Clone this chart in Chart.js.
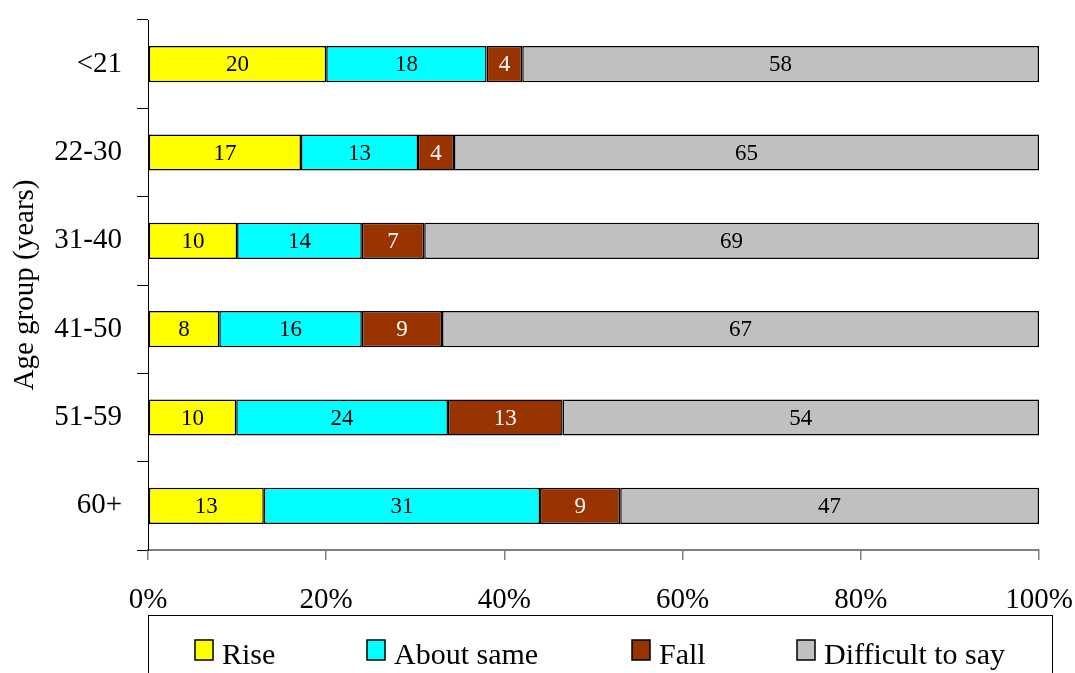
<!DOCTYPE html>
<html>
<head>
<meta charset="utf-8">
<script src="https://cdn.jsdelivr.net/npm/chart.js@4/dist/chart.umd.min.js"></script>
<style>
  html, body { margin: 0; padding: 0; background: #fff; }
  #wrap { width: 1075px; height: 673px; }
</style>
</head>
<body>
<div id="wrap"><canvas id="ageChart" width="1075" height="673"></canvas></div>
<script>
// survey answers by age group, counts in percent of each row
const ageGroups = ['<21', '22-30', '31-40', '41-50', '51-59', '60+'];
const rise = [20, 17, 10, 8, 10, 13];
const aboutSame = [18, 13, 14, 16, 24, 31];
const fall = [4, 4, 7, 9, 13, 9];
const difficult = [58, 65, 69, 67, 54, 47];
const xTicks = [0, 20, 40, 60, 80, 100];

const seriesNames = ['Rise', 'About same', 'Fall', 'Difficult to say'];
const seriesColors = ['#ffff00', '#00ffff', '#993300', '#c0c0c0'];
const labelColors = ['#000', '#000', '#fff', '#000'];

const FONT = '"Liberation Serif", "Times New Roman", serif';

// rows do not always add up to exactly 100, so each bar is scaled to its row total
const rowTotals = ageGroups.map((_, i) => rise[i] + aboutSame[i] + fall[i] + difficult[i]);
const toShare = arr => arr.map((v, i) => v / rowTotals[i] * 100);

const datasets = [rise, aboutSame, fall, difficult].map((arr, k) => ({
    label: seriesNames[k],
    data: toShare(arr),
    raw: arr,
    backgroundColor: seriesColors[k],
    borderColor: '#000',
    borderWidth: 1.5,
    borderSkipped: false,
    barPercentage: 0.41,
    categoryPercentage: 1,
    valueColor: labelColors[k]
}));

// numbers written in the middle of every segment
const valueLabels = {
    id: 'valueLabels',
    afterDatasetsDraw(chart) {
        const ctx = chart.ctx;
        ctx.save();
        ctx.font = '23px ' + FONT;
        ctx.textAlign = 'center';
        ctx.textBaseline = 'middle';
        chart.data.datasets.forEach((ds, k) => {
            const meta = chart.getDatasetMeta(k);
            meta.data.forEach((bar, i) => {
                ctx.fillStyle = ds.valueColor;
                ctx.fillText(String(ds.raw[i]), (bar.x + bar.base) / 2, bar.y + 1);
            });
        });
        ctx.restore();
    }
};

// boxed legend under the axis
const boxLegend = {
    id: 'boxLegend',
    afterDraw(chart) {
        const ctx = chart.ctx;
        const itemX = [195, 367, 632, 797];
        ctx.save();
        ctx.strokeStyle = '#000';
        ctx.lineWidth = 1;
        ctx.strokeRect(148.5, 615.5, 904, 100);
        ctx.font = '30px ' + FONT;
        ctx.textBaseline = 'middle';
        ctx.textAlign = 'left';
        chart.data.datasets.forEach((ds, k) => {
            ctx.fillStyle = ds.backgroundColor;
            ctx.fillRect(itemX[k], 640, 18, 20);
            ctx.lineWidth = 1.5;
            ctx.strokeStyle = '#000';
            ctx.strokeRect(itemX[k], 640, 18, 20);
            ctx.fillStyle = '#000';
            ctx.fillText(ds.label, itemX[k] + 27, 656);
        });
        ctx.restore();
    }
};

new Chart(document.getElementById('ageChart'), {
    type: 'bar',
    data: { labels: ageGroups, datasets: datasets },
    options: {
        indexAxis: 'y',
        responsive: false,
        animation: false,
        layout: { padding: { top: 20, right: 36, left: 0, bottom: 0 } },
        plugins: {
            legend: { display: false },
            tooltip: { enabled: false }
        },
        scales: {
            x: {
                stacked: true,
                min: 0,
                max: 100,
                afterBuildTicks: axis => { axis.ticks = xTicks.map(v => ({ value: v })); },
                afterFit: axis => {
                    axis.height = 123;
                    axis.paddingLeft = 0;
                    axis.paddingRight = 0;
                },
                ticks: {
                    callback: v => v + '%',
                    color: '#000',
                    padding: 23,
                    maxRotation: 0,
                    font: { family: FONT, size: 29 }
                },
                grid: { drawOnChartArea: false, tickLength: 10, color: '#808080', lineWidth: 1.5 },
                border: { color: '#808080', width: 2 }
            },
            y: {
                stacked: true,
                afterFit: axis => {
                    axis.width = 148;
                    axis.paddingTop = 0;
                    axis.paddingBottom = 0;
                },
                ticks: {
                    color: '#000',
                    padding: 15,
                    font: { family: FONT, size: 29 }
                },
                grid: { drawOnChartArea: false, offset: true, tickLength: 11, color: '#000', lineWidth: 1 },
                border: { color: '#000', width: 1 },
                title: {
                    display: true,
                    text: 'Age group (years)',
                    color: '#000',
                    padding: { top: 8, bottom: 0 },
                    font: { family: FONT, size: 29 }
                }
            }
        }
    },
    plugins: [valueLabels, boxLegend]
});
</script>
</body>
</html>
